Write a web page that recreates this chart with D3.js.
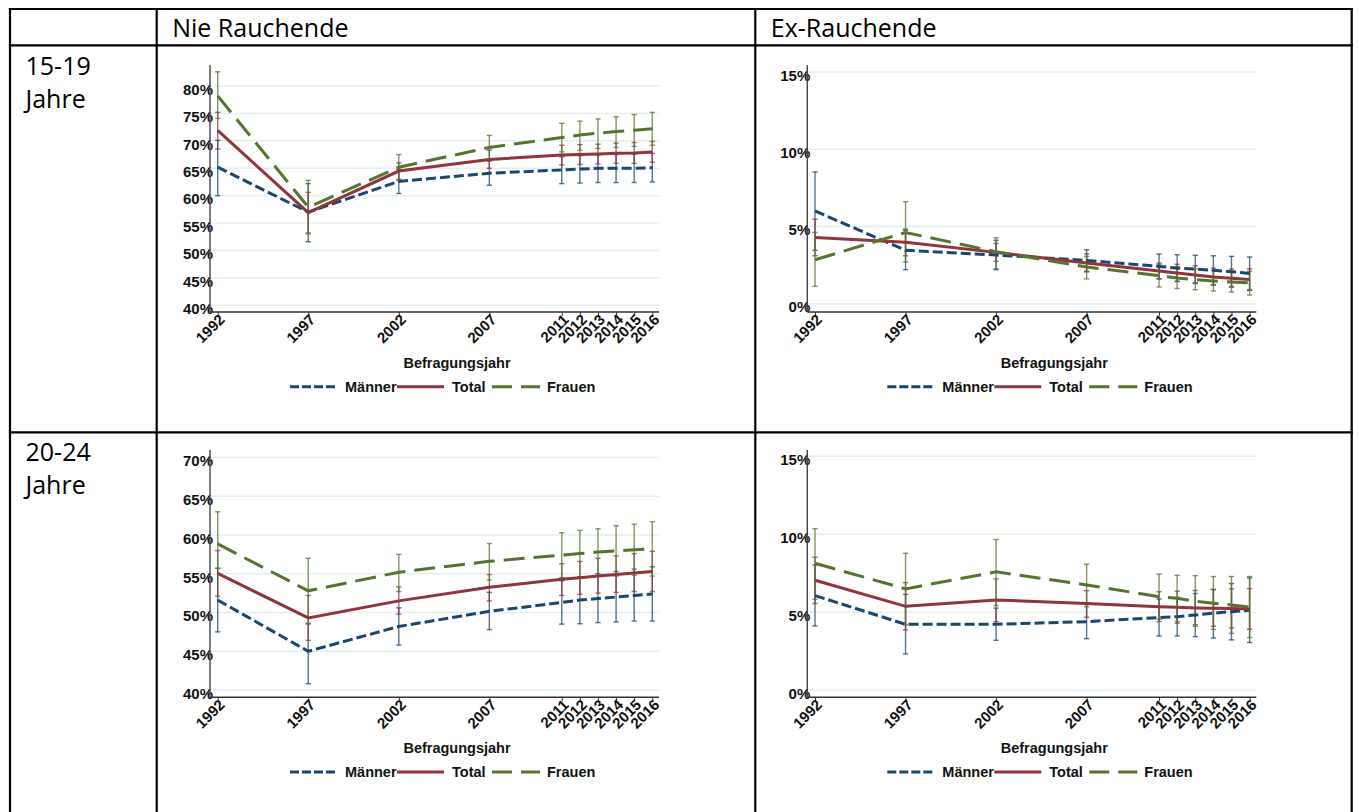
<!DOCTYPE html>
<html><head><meta charset="utf-8">
<script src="https://cdn.jsdelivr.net/npm/d3@7"></script>
<style>body{margin:0;background:#fff;overflow:hidden} svg{display:block}</style>
</head><body>
<script>
// ---------- data ----------
const years = [1992,1997,2002,2007,2011,2012,2013,2014,2015,2016];
const seriesNames = ["Männer","Total","Frauen"];
const columnHeaders = ["Nie Rauchende","Ex-Rauchende"];
const rowHeaders = [["15-19","Jahre"],["20-24","Jahre"]];
const xTitle = "Befragungsjahr";

const ticksNie1519 = [40,45,50,55,60,65,70,75,80];
const ticksNie2024 = [40,45,50,55,60,65,70];
const ticksEx = [0,5,10,15];

// Nie Rauchende, 15-19
const nie1519_m    = [65.2,57.0,62.6,64.1,64.7,64.85,65.0,65.0,65.0,65.1];
const nie1519_m_lo = [60.0,51.6,60.4,61.9,62.2,62.3,62.4,62.4,62.4,62.5];
const nie1519_m_hi = [70.1,62.2,64.8,66.3,67.1,67.3,67.4,67.5,67.6,67.7];
const nie1519_t    = [71.9,56.9,64.5,66.6,67.4,67.5,67.6,67.75,67.8,67.95];
const nie1519_t_lo = [68.5,53.2,63.0,65.0,65.6,65.7,65.8,65.9,65.9,66.1];
const nie1519_t_hi = [75.2,60.6,66.0,68.3,69.2,69.3,69.4,69.6,69.7,69.9];
const nie1519_f    = [78.2,57.9,65.2,68.8,70.6,71.05,71.4,71.7,71.95,72.2];
const nie1519_f_lo = [74.1,53.0,62.8,66.5,68.0,68.3,68.6,68.8,69.0,69.2];
const nie1519_f_hi = [82.6,62.8,67.5,71.0,73.2,73.6,74.0,74.4,74.8,75.2];

// Ex-Rauchende, 15-19
const ex1519_m    = [6.0,3.45,3.15,2.8,2.41,2.3,2.24,2.16,2.07,1.96];
const ex1519_m_lo = [3.45,2.2,2.2,2.1,1.61,1.43,1.35,1.22,1.08,0.9];
const ex1519_m_hi = [8.53,4.75,4.1,3.49,3.21,3.17,3.13,3.1,3.06,3.02];
const ex1519_t    = [4.29,3.97,3.32,2.63,2.11,1.98,1.85,1.72,1.64,1.57];
const ex1519_t_lo = [3.1,3.1,2.74,2.05,1.6,1.45,1.3,1.2,1.1,0.86];
const ex1519_t_hi = [5.47,4.83,3.9,3.23,2.63,2.55,2.45,2.3,2.25,2.26];
const ex1519_f    = [2.84,4.61,3.36,2.37,1.81,1.66,1.55,1.47,1.4,1.34];
const ex1519_f_lo = [1.12,2.7,2.26,1.6,1.08,0.98,0.9,0.82,0.75,0.56];
const ex1519_f_hi = [4.61,6.6,4.27,3.06,2.55,2.4,2.25,2.15,2.1,2.09];

// Nie Rauchende, 20-24
const nie2024_m    = [51.6,45.0,48.2,50.15,51.3,51.6,51.8,52.0,52.2,52.4];
const nie2024_m_lo = [47.5,40.8,45.8,47.8,48.5,48.55,48.7,48.8,48.9,48.9];
const nie2024_m_hi = [55.7,48.6,50.6,52.6,54.1,54.6,55.0,55.3,55.6,55.9];
const nie2024_t    = [55.05,49.3,51.5,53.25,54.3,54.5,54.7,54.9,55.1,55.3];
const nie2024_t_lo = [52.1,46.4,49.8,51.5,52.2,52.35,52.5,52.6,52.7,52.7];
const nie2024_t_hi = [58.0,52.2,53.3,54.9,56.3,56.6,57.0,57.3,57.6,57.9];
const nie2024_f    = [58.85,52.8,55.2,56.6,57.4,57.6,57.8,57.95,58.1,58.2];
const nie2024_f_lo = [55.7,48.5,52.7,54.2,54.5,54.6,54.7,54.7,54.8,54.7];
const nie2024_f_hi = [63.0,57.0,57.5,58.9,60.3,60.6,60.8,61.2,61.4,61.7];

// Ex-Rauchende, 20-24
const ex2024_m    = [6.07,4.23,4.23,4.4,4.66,4.72,4.83,4.94,5.04,5.13];
const ex2024_m_lo = [4.12,2.33,3.2,3.31,3.48,3.48,3.44,3.35,3.23,3.06];
const ex2024_m_hi = [8.03,6.15,5.26,5.5,5.85,5.96,6.2,6.47,6.84,7.2];
const ex2024_t    = [7.05,5.38,5.79,5.56,5.36,5.32,5.28,5.26,5.24,5.21];
const ex2024_t_lo = [5.56,3.87,4.4,4.68,4.4,4.3,4.2,4.1,4.0,3.91];
const ex2024_t_hi = [8.53,6.9,7.14,6.39,6.32,6.35,6.4,6.45,6.5,6.52];
const ex2024_f    = [8.14,6.5,7.59,6.75,6.0,5.9,5.7,5.58,5.47,5.32];
const ex2024_f_lo = [5.83,4.2,5.43,5.36,4.55,4.4,4.1,3.9,3.65,3.38];
const ex2024_f_hi = [10.36,8.78,9.66,8.08,7.44,7.37,7.35,7.29,7.29,7.29];

// ---------- styling ----------
const colors = ["#1a476f","#90353b","#55752f"];
const dashes = ["10,4", null, "21,9"];
const legendDashes = ["9,3", null, "20,9"];

const W = 1359, H = 812;
const svg = d3.select("body").append("svg").attr("width", W).attr("height", H);

// ---------- table ----------
const tbl = svg.append("g").attr("stroke","#000").attr("stroke-width",2.2);
const tX = [10, 156.7, 755.3, 1351.7];
const tY = [9, 45.3, 432.3, 830];
tX.forEach(x => tbl.append("line").attr("x1",x).attr("x2",x).attr("y1",tY[0]-1.1).attr("y2",tY[3]));
tY.forEach(y => tbl.append("line").attr("x1",tX[0]-1.1).attr("x2",tX[3]+1.1).attr("y1",y).attr("y2",y));

const hdrFont = "'Open Sans', 'Noto Sans', sans-serif";
const hdrSize = 25;
columnHeaders.forEach((h,i) => {
  svg.append("text").attr("x", tX[i+1]+15.5).attr("y", 36.5)
    .attr("font-family", hdrFont).attr("font-size", hdrSize).attr("fill","#000").text(h);
});
const rowBase = [75, 460.7];
rowHeaders.forEach((lines,r) => {
  lines.forEach((l,k) => {
    svg.append("text").attr("x", 25.5).attr("y", rowBase[r] + k*33)
      .attr("font-family", hdrFont).attr("font-size", hdrSize).attr("fill","#000").text(l);
  });
});

// ---------- panels ----------
const panels = [
  {col:0,row:0,ticks:ticksNie1519,dom:[38.78,83.84],
   s:[[nie1519_m,nie1519_m_lo,nie1519_m_hi],[nie1519_t,nie1519_t_lo,nie1519_t_hi],[nie1519_f,nie1519_f_lo,nie1519_f_hi]]},
  {col:1,row:0,ticks:ticksEx,dom:[-0.54,15.45],
   s:[[ex1519_m,ex1519_m_lo,ex1519_m_hi],[ex1519_t,ex1519_t_lo,ex1519_t_hi],[ex1519_f,ex1519_f_lo,ex1519_f_hi]]},
  {col:0,row:1,ticks:ticksNie2024,dom:[39.06,70.97],
   s:[[nie2024_m,nie2024_m_lo,nie2024_m_hi],[nie2024_t,nie2024_t_lo,nie2024_t_hi],[nie2024_f,nie2024_f_lo,nie2024_f_hi]]},
  {col:1,row:1,ticks:ticksEx,dom:[-0.45,15.4],
   s:[[ex2024_m,ex2024_m_lo,ex2024_m_hi],[ex2024_t,ex2024_t_lo,ex2024_t_hi],[ex2024_f,ex2024_f_lo,ex2024_f_hi]]}
];
const axisXs = [210, 807.3];
const axisTops = [65, 450];
const axisBottoms = [312, 697.3];
const plotW = 449;
const labFont = "'Liberation Sans', Arial, sans-serif";

panels.forEach(p => {
  const ax = axisXs[p.col], top = axisTops[p.row], bot = axisBottoms[p.row];
  const g = svg.append("g");
  const x = d3.scaleLinear().domain([1992,2016]).range([ax+7.7, ax+442.3]);
  const y = d3.scaleLinear().domain(p.dom).range([bot, top]);

  // gridlines
  g.append("g").selectAll("line").data(p.ticks).join("line")
    .attr("x1", ax).attr("x2", ax+plotW)
    .attr("y1", d => y(d)).attr("y2", d => y(d))
    .attr("stroke", "#e6eff0").attr("stroke-width", 1.5);

  // y axis via d3.axisLeft
  const yAx = g.append("g").attr("transform", `translate(${ax},0)`)
    .call(d3.axisLeft(y).tickValues(p.ticks).tickSize(2).tickFormat(d => d + "%"));
  yAx.select(".domain").remove();
  yAx.selectAll(".tick line").attr("stroke","#333");
  yAx.selectAll(".tick text").attr("x", 3).attr("dy","0.55em")
    .attr("font-family", labFont).attr("font-size", 15).attr("font-weight","bold").attr("fill","#111");
  g.append("line").attr("x1",ax).attr("x2",ax).attr("y1",top).attr("y2",bot)
    .attr("stroke","#444").attr("stroke-width",1.4);

  // x axis via d3.axisBottom
  const xAx = g.append("g").attr("transform", `translate(0,${bot})`)
    .call(d3.axisBottom(x).tickValues(years).tickSize(4).tickFormat(d3.format("d")));
  xAx.select(".domain").remove();
  xAx.selectAll(".tick line").attr("stroke","#333");
  xAx.selectAll(".tick text")
    .attr("font-family", labFont).attr("font-size", 15).attr("font-weight","bold").attr("fill","#111")
    .attr("text-anchor","end").attr("dy", null).attr("y", null)
    .attr("transform","translate(7.5,8.5) rotate(-45)");
  g.append("line").attr("x1",ax).attr("x2",ax+plotW).attr("y1",bot).attr("y2",bot)
    .attr("stroke","#333").attr("stroke-width",1.4);

  // error bars
  p.s.forEach((ser,si) => {
    const [v, lo, hi] = ser;
    const eb = g.append("g").attr("stroke", colors[si]).attr("stroke-opacity",0.75).attr("stroke-width",1.4);
    years.forEach((yr,i) => {
      const cx = x(yr);
      eb.append("line").attr("x1",cx).attr("x2",cx).attr("y1",y(lo[i])).attr("y2",y(hi[i]));
      eb.append("line").attr("x1",cx-2.6).attr("x2",cx+2.6).attr("y1",y(lo[i])).attr("y2",y(lo[i]));
      eb.append("line").attr("x1",cx-2.6).attr("x2",cx+2.6).attr("y1",y(hi[i])).attr("y2",y(hi[i]));
    });
  });
  // lines
  p.s.forEach((ser,si) => {
    const v = ser[0];
    const line = d3.line().x((d,i) => x(years[i])).y(d => y(d));
    g.append("path").datum(v).attr("d", line).attr("fill","none")
      .attr("stroke", colors[si]).attr("stroke-width", 3)
      .attr("stroke-dasharray", dashes[si]);
  });

  // x title
  g.append("text").attr("x", ax+247).attr("y", bot+51).attr("dy","0.35em")
    .attr("text-anchor","middle").attr("font-family", labFont).attr("font-size",14.5)
    .attr("font-weight","bold").attr("fill","#111").text(xTitle);

  // legend
  const ly = bot + 74.7;
  const legSym = [[80,125],[187,234],[282,330]];
  const legTxt = [135,242,337];
  seriesNames.forEach((n,si) => {
    g.append("line").attr("x1", ax+legSym[si][0]).attr("x2", ax+legSym[si][1])
      .attr("y1", ly).attr("y2", ly).attr("stroke", colors[si]).attr("stroke-width",3)
      .attr("stroke-dasharray", legendDashes[si]);
    g.append("text").attr("x", ax+legTxt[si]).attr("y", ly).attr("dy","0.35em")
      .attr("font-family", labFont).attr("font-size",14.5).attr("font-weight","bold")
      .attr("fill","#111").text(n);
  });
});
</script>
</body></html>
